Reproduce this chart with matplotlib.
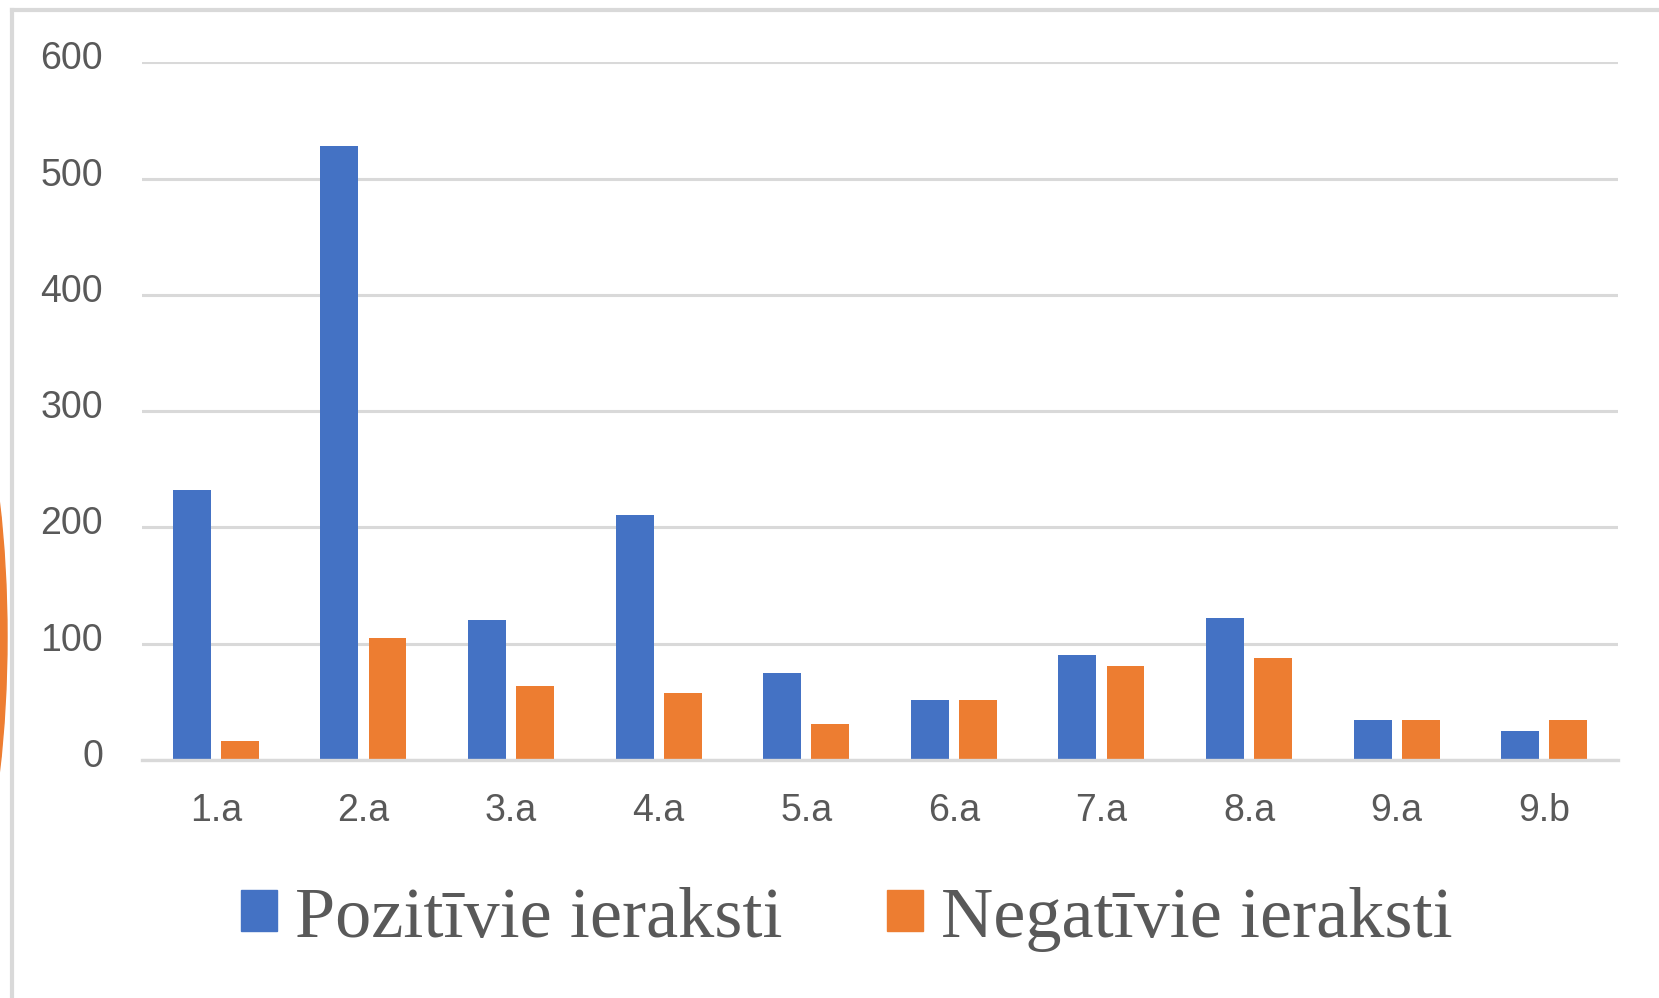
import matplotlib.pyplot as plt
import numpy as np
from matplotlib.patches import Ellipse, Patch
from matplotlib.lines import Line2D
from matplotlib.transforms import ScaledTranslation

categories = ['1.a', '2.a', '3.a', '4.a', '5.a', '6.a', '7.a', '8.a', '9.a', '9.b']
positive = [232, 528, 120, 211, 75, 52, 90, 122, 34, 25]
negative = [16, 105, 64, 58, 31, 52, 81, 88, 34, 34]
series_names = ['Pozitīvie ieraksti', 'Negatīvie ieraksti']

blue = '#4472c4'
orange = '#ed7d31'
grid_c = '#d9d9d9'
text_c = '#595959'

fig = plt.figure(figsize=(16.59, 9.98), dpi=100)
ax = fig.add_axes([0.0856, 0.2385, 0.8897, 0.699])

x = np.arange(len(categories))
w = 0.257
off = 0.163
ax.bar(x - off, positive, w, color=blue, zorder=3)
ax.bar(x + off, negative, w, color=orange, zorder=3)

ax.set_xlim(-0.5, len(categories) - 0.5)
ax.set_ylim(0, 600)
ax.set_yticks(range(0, 601, 100))
ax.yaxis.grid(True, color=grid_c, linewidth=2.2, zorder=0)
ax.set_axisbelow(True)
for s in ['top', 'right', 'left']:
    ax.spines[s].set_visible(False)
ax.spines['bottom'].set_color(grid_c)
ax.spines['bottom'].set_linewidth(2.4)
ax.spines['bottom'].set_zorder(4)

ax.set_xticks(x)
ax.set_xticklabels(categories)
ax.tick_params(axis='both', length=0, labelcolor=text_c, labelsize=27)
ax.tick_params(axis='y', pad=28)
ax.tick_params(axis='x', pad=24)
for lab in ax.get_xticklabels() + ax.get_yticklabels():
    lab.set_fontfamily('Liberation Sans')
# y labels sit a little above their gridlines
shift = ScaledTranslation(0, 7 / 100, fig.dpi_scale_trans)
for lab in ax.get_yticklabels():
    lab.set_transform(lab.get_transform() + shift)

# legend
handles = [Patch(color=blue), Patch(color=orange)]
fig.legend(handles, series_names, loc='center', bbox_to_anchor=(0.5105, 1 - 919 / 998),
           ncol=2, frameon=False, prop={'family': 'Liberation Serif', 'size': 52},
           labelcolor=text_c, handlelength=0.5, handleheight=0.5,
           handletextpad=0.25, columnspacing=1.45)

# frame lines of the slide and the orange shape on the left edge
fig.add_artist(Line2D([12 / 1659, 12 / 1659], [0, 1 - 10 / 998], color=grid_c,
                      linewidth=3, transform=fig.transFigure))
fig.add_artist(Line2D([12 / 1659, 1], [1 - 10 / 998, 1 - 10 / 998], color=grid_c,
                      linewidth=3, transform=fig.transFigure))
fig.add_artist(Ellipse((-93 / 1659, 1 - 637 / 998), 200 / 1659, 708 / 998,
                       color=orange, transform=fig.transFigure))

fig.savefig('out.png', dpi=100)
